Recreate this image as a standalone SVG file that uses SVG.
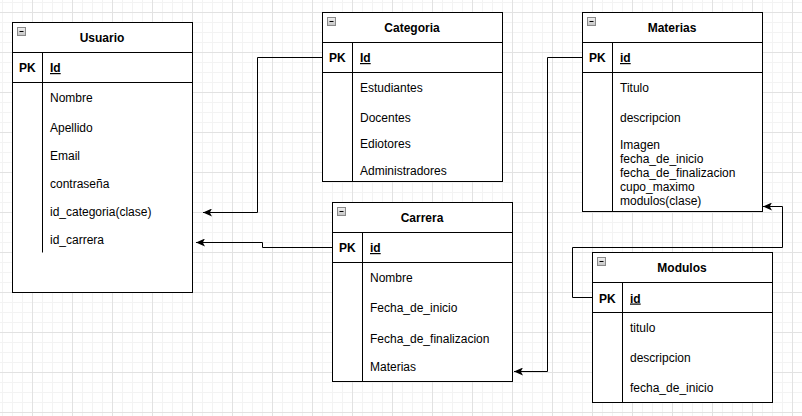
<svg xmlns="http://www.w3.org/2000/svg" width="802" height="416" viewBox="0 0 802 416">
<defs>
<pattern id="grid" patternUnits="userSpaceOnUse" x="32" y="12" width="40" height="40">
<path d="M10.5,0V40M20.5,0V40M30.5,0V40M0,10.5H40M0,20.5H40M0,30.5H40" stroke="#f3f3f3" stroke-width="1" fill="none"/>
<path d="M0.5,0V40M0,0.5H40" stroke="#e2e2e2" stroke-width="1" fill="none"/>
</pattern>
<linearGradient id="btn" x1="0" y1="0" x2="0" y2="1">
<stop offset="0" stop-color="#f2f2f2"/>
<stop offset="1" stop-color="#c4c4c4"/>
</linearGradient>
<marker id="arr" viewBox="0 0 9 8" refX="9" refY="4" markerWidth="9" markerHeight="8" markerUnits="userSpaceOnUse" orient="auto">
<path d="M9,4L0,0L2.2,4L0,8Z" fill="#000"/>
</marker>
</defs>
<style>
.box{fill:#fff;stroke:#000;stroke-width:1}
.ln{fill:none;stroke:#000;stroke-width:1}
.t{font-family:"Liberation Sans",Arial,sans-serif;font-size:12px;fill:#000}
.b{font-weight:bold}
.c{text-anchor:middle}
.u{text-decoration:underline}
.btn{fill:url(#btn);stroke:#8a8a8a;stroke-width:1}
.conn{fill:none;stroke:#000;stroke-width:1;marker-end:url(#arr)}
</style>
<rect width="802" height="416" fill="#fff"/>
<rect width="802" height="416" fill="url(#grid)"/>

<g id="connectors">
<path class="conn" d="M322,57.5H257.5V212.5H203"/>
<path class="conn" d="M332,247.5H262.5V242.5H196"/>
<path class="conn" d="M582,57.5H547.5V371.5H514"/>
<path class="conn" d="M592,297.5H572.5V247.5H782.5V206.5H763"/>
</g>

<g id="usuario">
<rect class="box" x="12.5" y="22.5" width="180" height="270"/>
<path class="ln" d="M12.5,52.5H192.5M12.5,82.5H192.5M42.5,52.5V252.5"/>
<rect class="btn" x="17.5" y="27.5" width="8" height="8"/>
<path class="ln" d="M19.5,31.5H23.5"/>
<text class="t b c" x="102" y="42">Usuario</text>
<text class="t b" x="19" y="72">PK</text>
<text class="t b u" x="50" y="72">Id</text>
<text class="t" x="50" y="102">Nombre</text>
<text class="t" x="50" y="132">Apellido</text>
<text class="t" x="50" y="160">Email</text>
<text class="t" x="50" y="188">contraseña</text>
<text class="t" x="50" y="216">id_categoria(clase)</text>
<text class="t" x="50" y="244">id_carrera</text>
</g>

<g id="categoria">
<rect class="box" x="322.5" y="12.5" width="180" height="169"/>
<path class="ln" d="M322.5,42.5H502.5M322.5,72.5H502.5M352.5,42.5V181.5"/>
<rect class="btn" x="327.5" y="17.5" width="8" height="8"/>
<path class="ln" d="M329.5,21.5H333.5"/>
<text class="t b c" x="412" y="32">Categoria</text>
<text class="t b" x="329" y="62">PK</text>
<text class="t b u" x="360" y="62">Id</text>
<text class="t" x="360" y="91.5">Estudiantes</text>
<text class="t" x="360" y="122">Docentes</text>
<text class="t" x="360" y="147.5">Ediotores</text>
<text class="t" x="360" y="175">Administradores</text>
</g>

<g id="materias">
<rect class="box" x="582.5" y="12.5" width="180" height="199"/>
<path class="ln" d="M582.5,42.5H762.5M582.5,72.5H762.5M612.5,42.5V211.5"/>
<rect class="btn" x="587.5" y="17.5" width="8" height="8"/>
<path class="ln" d="M589.5,21.5H593.5"/>
<text class="t b c" x="672" y="32">Materias</text>
<text class="t b" x="589" y="62">PK</text>
<text class="t b u" x="620" y="62">id</text>
<text class="t" x="620" y="91.5">Titulo</text>
<text class="t" x="620" y="122">descripcion</text>
<text class="t" x="620" y="148.5">Imagen</text>
<text class="t" x="620" y="162.5">fecha_de_inicio</text>
<text class="t" x="620" y="176.5">fecha_de_finalizacion</text>
<text class="t" x="620" y="190.5">cupo_maximo</text>
<text class="t" x="620" y="204.5">modulos(clase)</text>
</g>

<g id="carrera">
<rect class="box" x="332.5" y="202.5" width="180" height="179"/>
<path class="ln" d="M332.5,232.5H512.5M332.5,262.5H512.5M362.5,232.5V381.5"/>
<rect class="btn" x="337.5" y="207.5" width="8" height="8"/>
<path class="ln" d="M339.5,211.5H343.5"/>
<text class="t b c" x="422" y="222">Carrera</text>
<text class="t b" x="339" y="252">PK</text>
<text class="t b u" x="370" y="252">id</text>
<text class="t" x="370" y="281.5">Nombre</text>
<text class="t" x="370" y="312">Fecha_de_inicio</text>
<text class="t" x="370" y="343">Fecha_de_finalizacion</text>
<text class="t" x="370" y="371">Materias</text>
</g>

<g id="modulos">
<rect class="box" x="592.5" y="252.5" width="180" height="150"/>
<path class="ln" d="M592.5,282.5H772.5M592.5,312.5H772.5M622.5,282.5V402.5"/>
<rect class="btn" x="597.5" y="257.5" width="8" height="8"/>
<path class="ln" d="M599.5,261.5H603.5"/>
<text class="t b c" x="682" y="272">Modulos</text>
<text class="t b" x="599" y="302.5">PK</text>
<text class="t b u" x="630" y="302.5">id</text>
<text class="t" x="630" y="332">titulo</text>
<text class="t" x="630" y="362">descripcion</text>
<text class="t" x="630" y="392">fecha_de_inicio</text>
</g>
</svg>
